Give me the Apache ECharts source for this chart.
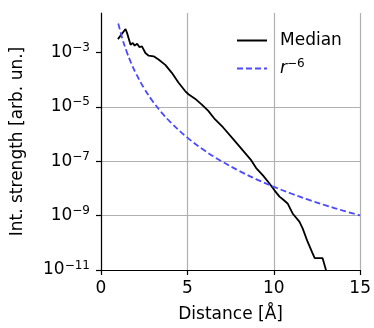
<!DOCTYPE html>
<html><head><meta charset="utf-8">
<script src="https://cdn.jsdelivr.net/npm/echarts@6/dist/echarts.min.js"></script>
<style>html,body{margin:0;padding:0;background:#fff}#c{width:374px;height:328px}</style>
</head><body><div id="c"></div>
<script>
// Median curve (distance in Å, intensity)
const medianX = [0.98,1.42,1.51,1.71,1.84,1.95,2.09,2.22,2.37,2.57,2.76,3.05,3.33,3.72,4.10,4.48,4.87,5.06,5.44,5.82,6.21,6.59,7.07,7.64,8.22,8.70,8.98,9.37,9.75,10.04,10.33,10.52,10.80,11.09,11.48,11.67,11.95,12.24,12.37,12.55,12.82,13.02,13.1];
const medianY = [3.09e-3,7.24e-3,5.13e-3,1.91e-3,2.24e-3,1.78e-3,2.09e-3,1.58e-3,1.66e-3,9.5e-4,7.6e-4,7.2e-4,5.5e-4,3.5e-4,1.78e-4,7.8e-5,3.8e-5,2.9e-5,2.0e-5,1.23e-5,7.1e-6,3.5e-6,1.74e-6,6.6e-7,2.45e-7,1.07e-7,5.6e-8,3.0e-8,1.51e-8,8.5e-9,5.0e-9,4.0e-9,2.8e-9,1.2e-9,6.0e-10,3.4e-10,1.12e-10,4.2e-11,2.75e-11,2.75e-11,2.75e-11,1.0e-11,5e-12];
// r^-6 reference curve
const refX = [1,1.25,1.5,1.75,2,2.5,3,3.5,4,5,6,7,8,9,10,11,12,13,14,15];
const refY = [1.15e-2,3.01e-3,1.01e-3,4.0e-4,1.8e-4,4.71e-5,1.58e-5,6.26e-6,2.81e-6,7.36e-7,2.46e-7,9.77e-8,4.39e-8,2.16e-8,1.15e-8,6.49e-9,3.85e-9,2.38e-9,1.53e-9,1.01e-9];
const xTicks = [0,5,10,15];
const yTickExps = [-11,-9,-7,-5,-3];

const FONT = 'DejaVu Sans';
const chart = echarts.init(document.getElementById('c'), null, {renderer:'canvas'});
const zip = (a,b) => a.map((v,i)=>[v,b[i]]);
const supRich = {
  b:{fontFamily:FONT,fontSize:17,color:'#000'},
  s:{fontFamily:FONT,fontSize:12,color:'#000',padding:[0,0,9,0]},
  i:{fontFamily:FONT,fontSize:17,color:'#000',fontStyle:'italic'},
  t:{fontFamily:FONT,fontSize:17,color:'#000'}
};
chart.setOption({
  animation:false,
  backgroundColor:'#fff',
  grid:{left:101,right:11,top:13,bottom:56,containLabel:false},
  xAxis:{
    type:'value',min:xTicks[0],max:xTicks[xTicks.length-1],interval:5,
    name:'Distance [Å]',nameLocation:'middle',nameGap:36,
    nameTextStyle:{fontFamily:FONT,fontSize:17,color:'#000'},
    axisLine:{show:true,onZero:false,lineStyle:{color:'#000',width:1.2}},
    axisTick:{show:true,inside:false,length:5,lineStyle:{color:'#000',width:1.2}},
    axisLabel:{fontFamily:FONT,fontSize:17,color:'#000',margin:10},
    splitLine:{show:true,lineStyle:{color:'#b0b0b0',width:1.2}}
  },
  yAxis:{
    type:'log',logBase:10,min:1e-11,max:Math.pow(10,-1.55),interval:2,
    name:'Int. strength [arb. un.]',nameLocation:'middle',nameGap:75,
    nameTextStyle:{fontFamily:FONT,fontSize:17,color:'#000'},
    axisLine:{show:true,lineStyle:{color:'#000',width:1.2}},
    axisTick:{show:true,inside:false,length:5,lineStyle:{color:'#000',width:1.2},customValues:yTickExps.map(e=>Math.pow(10,e))},
    axisLabel:{margin:11,rich:supRich,customValues:yTickExps.map(e=>Math.pow(10,e)),
      formatter:function(v){const e=Math.round(Math.log10(v));return '{b|10}{s|'+(e<0?'\u2212':'')+Math.abs(e)+'}';}},
    splitLine:{show:true,showMaxLine:false,lineStyle:{color:'#b0b0b0',width:1.2}}
  },
  legend:{
    orient:'vertical',left:231,top:27,itemWidth:30,itemHeight:14,itemGap:9,
    selectedMode:false,
    itemStyle:{opacity:0},
    textStyle:{fontFamily:FONT,fontSize:17,color:'#000',rich:supRich,padding:[0,0,0,8]},
    formatter:function(n){return n==='r6'?'{i|r}{s|\u22126}':'{t|Median}';},
    data:[{name:'Median'},{name:'r6'}]
  },
  series:[
    {name:'Median',type:'line',data:zip(medianX,medianY),symbol:'none',clip:true,
      lineStyle:{color:'#000',width:1.8},itemStyle:{color:'#000'}},
    {name:'r6',type:'line',data:zip(refX,refY),symbol:'none',smooth:0.4,clip:true,
      lineStyle:{color:'#4a4aff',width:1.8,type:[6,3]},itemStyle:{color:'#4a4aff'}}
  ]
});
</script></body></html>
